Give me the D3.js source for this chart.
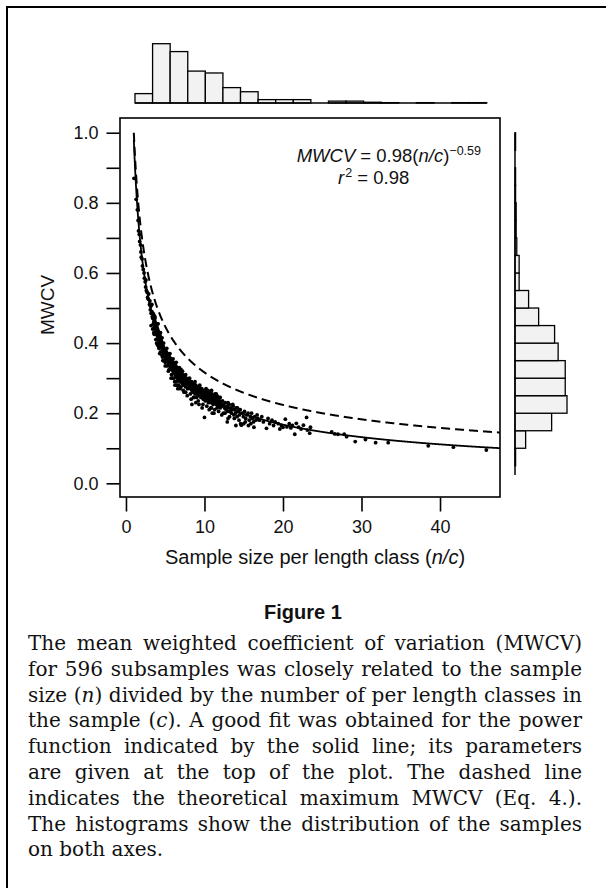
<!DOCTYPE html>
<html><head><meta charset="utf-8">
<script src="https://cdn.jsdelivr.net/npm/d3@7/dist/d3.min.js"></script>
<style>body{margin:0;background:#fff;} svg{display:block;}</style>
</head><body>
<svg id="chart" width="606" height="888"></svg>
<script>
// ---------------- data ----------------
const xTicks = [0, 10, 20, 30, 40];
const yTicks = [0, 0.1, 0.2, 0.3, 0.4, 0.5, 0.6, 0.7, 0.8, 0.9, 1.0];
const yTickLabels = ["0.0", "0.2", "0.4", "0.6", "0.8", "1.0"];
const xDomain = [-0.76, 47.64];
const yDomain = [-0.039, 1.042];

// fitted power function MWCV = a (n/c)^b  and theoretical maximum
const fitParams = [0.98, -0.59];
const maxParams = [1.0, -0.5];
const curveRange = [1, 47.64];

// marginal histograms
const topHistStart = 1.15, topHistWidth = 2.24;
const topHistCounts = [25, 158, 137, 85, 80, 41, 30, 9, 9, 9, 0, 5, 5, 2, 1, 0, 1, 0, 1, 1];
const rightHistStart = 0, rightHistWidth = 0.05;
const rightHistCounts = [0, 1, 18, 62, 88, 85, 85, 73, 67, 40, 23, 7, 7, 3, 2, 2, 1, 1, 0, 1];
const rightHistExtent = [0.024, 1.0];

// subsamples (n/c, MWCV)
const samples = [
[1.02,0.87],[1.3,0.81],[1.45,0.78],[1.55,0.75],[1.6,0.72],[1.7,0.71],[1.75,0.69],[1.85,0.68],[1.9,0.66],[1.95,0.645],
[2.05,0.64],[2.1,0.62],[2.2,0.61],[2.3,0.60],[2.35,0.585],[2.45,0.575],[2.5,0.56],[2.55,0.58],[2.6,0.55],[2.7,0.545],
[2.75,0.53],[2.85,0.525],[2.9,0.54],[3.0,0.51],[3.05,0.52],[3.1,0.495],[3.15,0.505],[3.2,0.485],[3.3,0.49],[3.35,0.475],
[3.42,0.47],[3.45,0.485],[3.48,0.455],[3.5,0.475],[3.55,0.46],[3.58,0.48],[3.6,0.445],[3.62,0.465],[3.65,0.455],[3.68,0.47],
[3.7,0.44],[3.72,0.46],[3.75,0.45],[3.78,0.435],[3.8,0.455],[3.82,0.445],[3.85,0.43],[3.88,0.45],[3.9,0.44],[3.92,0.425],
[3.95,0.445],[3.98,0.435],[4.0,0.42],[4.02,0.44],[4.05,0.43],[4.08,0.415],[4.1,0.435],[4.12,0.425],[4.15,0.41],[4.18,0.43],
[4.2,0.42],[4.22,0.405],[4.25,0.415],[4.28,0.425],[4.3,0.40],[4.33,0.41],[4.36,0.42],[4.4,0.405],[4.42,0.395],[4.45,0.41],
[4.48,0.40],[4.5,0.39],[4.52,0.405],[4.55,0.395],[4.58,0.385],[4.6,0.40],[4.62,0.39],[4.65,0.38],[4.68,0.395],[4.7,0.385],
[4.72,0.375],[4.75,0.39],[4.78,0.38],[4.8,0.37],[4.82,0.385],[4.85,0.375],[4.88,0.365],[4.9,0.38],[4.92,0.37],[4.95,0.36],
[4.98,0.375],[5.0,0.365],[5.03,0.38],[5.06,0.37],[5.1,0.355],[5.12,0.365],[5.15,0.375],[5.18,0.36],[5.2,0.35],[5.23,0.365],
[5.26,0.355],[5.3,0.37],[5.33,0.345],[5.36,0.36],[5.4,0.35],[5.43,0.365],[5.46,0.34],[5.5,0.355],[5.53,0.345],[5.56,0.36],
[5.6,0.335],[5.63,0.35],[3.9,0.40],[4.3,0.37],[4.7,0.35],[5.0,0.335],[5.4,0.32],[4.1,0.455],[4.6,0.415],
[3.2,0.45],[3.4,0.44],[3.6,0.425],[3.8,0.41],[4.0,0.395],[4.2,0.385],[4.4,0.375],[4.6,0.365],[4.8,0.35],[5.0,0.345],
[3.3,0.51],[3.7,0.475],[4.0,0.455],[4.4,0.43],[4.8,0.40],[5.2,0.385],[3.55,0.43],[4.15,0.39],[4.65,0.36],[5.25,0.335],
[5.68,0.345],[5.7,0.33],[5.72,0.355],[5.75,0.34],[5.78,0.35],[5.8,0.325],[5.83,0.34],[5.86,0.35],[5.9,0.33],[5.93,0.345],
[5.96,0.335],[6.0,0.32],[6.03,0.345],[6.06,0.33],[6.1,0.34],[6.13,0.315],[6.16,0.335],[6.2,0.325],[6.23,0.34],[6.26,0.31],
[6.3,0.33],[6.33,0.32],[6.36,0.335],[6.4,0.305],[6.43,0.325],[6.46,0.315],[6.5,0.33],[6.53,0.30],[6.56,0.32],[6.6,0.31],
[6.63,0.325],[6.66,0.295],[6.7,0.315],[6.73,0.305],[6.76,0.32],[6.8,0.30],[6.83,0.31],[6.86,0.29],[6.9,0.315],[6.93,0.30],
[6.96,0.31],[7.0,0.29],[7.03,0.305],[7.06,0.315],[7.1,0.295],[7.13,0.305],[7.16,0.285],[7.2,0.30],[7.23,0.31],[7.26,0.29],
[7.3,0.30],[7.35,0.28],[7.4,0.295],[7.45,0.305],[7.5,0.285],[7.55,0.295],[7.6,0.275],[7.65,0.29],[7.7,0.30],[7.75,0.28],
[7.8,0.29],[7.85,0.27],[6.2,0.29],[6.9,0.27],[7.4,0.26],[5.9,0.30],[7.0,0.325],[6.5,0.28],
[5.5,0.325],[5.8,0.31],[6.1,0.30],[6.4,0.29],[6.7,0.28],[7.0,0.275],[7.3,0.265],[7.6,0.26],[5.6,0.37],[6.0,0.355],
[6.4,0.345],[6.8,0.33],[7.2,0.32],[7.6,0.31],[5.75,0.30],[6.6,0.27],[7.8,0.25],[6.25,0.28],
[7.95,0.285],[8.0,0.295],[8.05,0.275],[8.1,0.29],[8.15,0.28],[8.2,0.27],[8.25,0.285],[8.3,0.275],[8.35,0.29],[8.4,0.265],
[8.45,0.28],[8.5,0.27],[8.55,0.26],[8.6,0.275],[8.65,0.285],[8.7,0.265],[8.75,0.275],[8.8,0.255],[8.85,0.27],[8.9,0.28],
[8.95,0.26],[9.0,0.27],[9.05,0.255],[9.1,0.275],[9.15,0.265],[9.2,0.25],[9.25,0.27],[9.3,0.26],[9.35,0.275],[9.4,0.255],
[9.5,0.265],[9.55,0.245],[9.6,0.26],[9.65,0.27],[9.7,0.25],[9.8,0.26],[9.85,0.24],[9.9,0.255],[9.95,0.265],[10.0,0.245],
[10.05,0.255],[10.1,0.235],[8.3,0.24],[8.9,0.23],[9.3,0.225],[9.7,0.215],[10.0,0.188],[8.6,0.245],
[8.2,0.255],[8.7,0.245],[9.2,0.235],[9.8,0.225],[10.3,0.22],[10.8,0.215],[11.3,0.21],[8.1,0.30],[8.8,0.29],[9.4,0.28],
[10.2,0.27],[10.9,0.265],[11.5,0.255],[12.0,0.245],[9.0,0.245],[10.5,0.23],[11.0,0.2],[8.4,0.225],[12.4,0.2],[11.6,0.215],
[10.2,0.25],[10.25,0.26],[10.3,0.245],[10.35,0.255],[10.4,0.24],[10.45,0.265],[10.5,0.25],[10.55,0.235],[10.6,0.255],[10.65,0.245],
[10.7,0.26],[10.75,0.24],[10.8,0.25],[10.85,0.23],[10.9,0.245],[10.95,0.255],[11.0,0.235],[11.05,0.245],[11.1,0.225],[11.15,0.24],
[11.2,0.25],[11.25,0.23],[11.3,0.24],[11.35,0.255],[11.4,0.235],[11.45,0.245],[11.5,0.225],[11.55,0.24],[11.6,0.25],[11.65,0.23],
[11.7,0.245],[11.75,0.22],[11.8,0.235],[11.85,0.245],[11.9,0.225],[11.95,0.235],[12.0,0.215],[12.1,0.23],[12.2,0.22],[12.3,0.235],
[10.6,0.21],[11.2,0.20],[11.8,0.205],[12.2,0.195],[10.9,0.215],
[12.45,0.225],[12.55,0.215],[12.65,0.23],[12.75,0.21],[12.85,0.22],[12.95,0.205],[13.05,0.215],[13.15,0.225],[13.25,0.205],[13.35,0.215],
[13.45,0.2],[13.55,0.21],[13.65,0.22],[13.75,0.195],[13.85,0.21],[13.95,0.2],[14.05,0.215],[14.15,0.19],[14.3,0.205],[14.45,0.195],
[14.55,0.21],[14.6,0.17],[13.0,0.185],[14.7,0.166],
[12.6,0.2],[13.2,0.19],[13.8,0.185],[14.4,0.18],[13.0,0.23],[13.6,0.225],[14.2,0.215],[15.2,0.175],[15.9,0.17],[12.9,0.175],[14.0,0.165],
[14.8,0.2],[14.95,0.19],[15.1,0.205],[15.25,0.185],[15.4,0.195],[15.55,0.2],[15.7,0.18],[15.85,0.19],[16.0,0.2],[16.1,0.185],
[16.25,0.175],[16.4,0.19],[16.55,0.18],[16.7,0.195],[16.8,0.185],[15.0,0.17],[15.6,0.165],[16.3,0.16],
[17.0,0.18],[17.3,0.19],[17.5,0.175],[17.9,0.157],[18.1,0.185],[18.3,0.17],[18.6,0.18],[18.8,0.165],[19.0,0.175],
[19.4,0.17],[19.8,0.165],[20.3,0.183],[20.5,0.161],[20.8,0.17],[21.0,0.158],[21.2,0.165],[20.0,0.16],[19.6,0.155],
[21.5,0.14],[21.7,0.171],[22.0,0.16],[22.6,0.166],[23.0,0.188],[23.1,0.152],[23.4,0.143],[22.3,0.155],[23.5,0.16],
[26.2,0.147],[26.6,0.141],[27.0,0.14],[28.1,0.133],[27.8,0.14],[29.2,0.119],[30.5,0.125],[31.8,0.116],[33.4,0.116],[38.5,0.107],
[41.7,0.103],[45.9,0.095]
];

const xTitle = "Sample size per length class (";
const figureLabel = "Figure 1";
const captionLines = [
  "The mean weighted coefficient of variation (MWCV)",
  "for 596 subsamples was closely related to the sample",
  "size (_n_) divided by the number of per length classes in",
  "the sample (_c_). A good fit was obtained for the power",
  "function indicated by the solid line; its parameters",
  "are given at the top of the plot. The dashed line",
  "indicates the theoretical maximum MWCV (Eq. 4.).",
  "The histograms show the distribution of the samples",
  "on both axes."
];

// ---------------- drawing ----------------
const svg = d3.select("#chart");
const sans = "'Liberation Sans', Arial, Helvetica, sans-serif";
const serif = "'DejaVu Serif', serif";
const plot = {left: 120, top: 118, right: 500, bottom: 497};

// outer frame (open on right/bottom)
svg.append("path").attr("d", "M606,7H7V888").attr("fill", "none").attr("stroke", "#000").attr("stroke-width", 2);

const x = d3.scaleLinear().domain(xDomain).range([plot.left, plot.right]);
const y = d3.scaleLinear().domain(yDomain).range([plot.bottom, plot.top]);

// plot box
svg.append("rect").attr("x", plot.left).attr("y", plot.top)
  .attr("width", plot.right - plot.left).attr("height", plot.bottom - plot.top)
  .attr("fill", "none").attr("stroke", "#000").attr("stroke-width", 1.6);

// y axis
const yAxis = d3.axisLeft(y).tickValues(yTicks).tickSize(13).tickPadding(8)
  .tickFormat(d => { const s = d.toFixed(1); return yTickLabels.includes(s) ? s : ""; });
const gy = svg.append("g").attr("transform", `translate(${plot.left - 0.5},0)`).call(yAxis);
gy.select(".domain").remove();
gy.selectAll("line").attr("stroke-width", 1.6);
gy.selectAll("text").attr("font-family", sans).attr("font-size", 18).attr("fill", "#111");

// x axis
const xAxis = d3.axisBottom(x).tickValues(xTicks).tickSize(14).tickPadding(9);
const gx = svg.append("g").attr("transform", `translate(0,${plot.bottom + 0.5})`).call(xAxis);
gx.select(".domain").remove();
gx.selectAll("line").attr("stroke-width", 1.6);
gx.selectAll("text").attr("font-family", sans).attr("font-size", 18).attr("fill", "#111");

// axis titles
const xt = svg.append("text").attr("x", 315).attr("y", 564).attr("text-anchor", "middle")
  .attr("font-family", sans).attr("font-size", 20).attr("fill", "#111");
xt.append("tspan").text(xTitle);
xt.append("tspan").attr("font-style", "italic").text("n/c");
xt.append("tspan").text(")");

svg.append("text").attr("transform", "translate(54,305) rotate(-90)").attr("text-anchor", "middle")
  .attr("font-family", sans).attr("font-size", 19).attr("fill", "#111").text("MWCV");

// curves
svg.append("clipPath").attr("id", "pc").append("rect")
  .attr("x", plot.left).attr("y", plot.top).attr("width", plot.right - plot.left).attr("height", plot.bottom - plot.top);
const xs = d3.range(curveRange[0], curveRange[1] + 0.001, 0.02);
const line = d3.line().x(d => x(d[0])).y(d => y(d[1]));
svg.append("path").attr("clip-path", "url(#pc)")
  .datum(xs.map(v => [v, maxParams[0] * Math.pow(v, maxParams[1])]))
  .attr("d", line).attr("fill", "none").attr("stroke", "#000").attr("stroke-width", 2).attr("stroke-dasharray", "9,5");
svg.append("path").attr("clip-path", "url(#pc)")
  .datum(xs.map(v => [v, fitParams[0] * Math.pow(v, fitParams[1])]))
  .attr("d", line).attr("fill", "none").attr("stroke", "#000").attr("stroke-width", 1.8);

// points
svg.append("g").selectAll("circle").data(samples).join("circle")
  .attr("cx", d => x(d[0])).attr("cy", d => y(d[1])).attr("r", 1.9).attr("fill", "#000");

// annotation
const a1 = svg.append("text").attr("x", 481).attr("y", 162).attr("text-anchor", "end")
  .attr("font-family", sans).attr("font-size", 18.5).attr("fill", "#111");
a1.append("tspan").attr("font-style", "italic").text("MWCV");
a1.append("tspan").text(" = 0.98(");
a1.append("tspan").attr("font-style", "italic").text("n/c");
a1.append("tspan").text(")");
a1.append("tspan").attr("font-size", 12.5).attr("dy", -7).text("\u22120.59");
const a2 = svg.append("text").attr("x", 338).attr("y", 184)
  .attr("font-family", sans).attr("font-size", 18.5).attr("fill", "#111");
a2.append("tspan").attr("font-style", "italic").text("r");
a2.append("tspan").attr("font-size", 12.5).attr("dy", -7).attr("dx", 1).text("2");
a2.append("tspan").attr("dy", 7).text(" = 0.98");

// top histogram
const topBase = 103;
const hTop = d3.scaleLinear().domain([0, d3.max(topHistCounts)]).range([0, 59.3]);
const topBins = topHistCounts.map((c, i) => ({x0: topHistStart + i * topHistWidth, x1: topHistStart + (i + 1) * topHistWidth, c}));
svg.append("g").selectAll("rect").data(topBins.filter(b => b.c > 0)).join("rect")
  .attr("x", b => x(b.x0)).attr("width", b => x(b.x1) - x(b.x0))
  .attr("y", b => topBase - hTop(b.c)).attr("height", b => hTop(b.c))
  .attr("fill", "#f2f2f2").attr("stroke", "#000").attr("stroke-width", 1.3);
svg.append("line").attr("x1", x(topBins[0].x0)).attr("x2", x(topBins[topBins.length - 1].x1))
  .attr("y1", topBase).attr("y2", topBase).attr("stroke", "#000").attr("stroke-width", 1.5);

// right histogram
const rightBase = 515;
const wRight = d3.scaleLinear().domain([0, d3.max(rightHistCounts)]).range([0, 52]);
const rBins = rightHistCounts.map((c, i) => ({y0: rightHistStart + i * rightHistWidth, y1: rightHistStart + (i + 1) * rightHistWidth, c}));
svg.append("g").selectAll("rect").data(rBins.filter(b => b.c > 0)).join("rect")
  .attr("x", rightBase).attr("width", b => wRight(b.c))
  .attr("y", b => y(b.y1)).attr("height", b => y(b.y0) - y(b.y1))
  .attr("fill", "#f2f2f2").attr("stroke", "#000").attr("stroke-width", 1.3);
svg.append("line").attr("x1", rightBase).attr("x2", rightBase)
  .attr("y1", y(rightHistExtent[1])).attr("y2", y(rightHistExtent[0])).attr("stroke", "#000").attr("stroke-width", 1.5);

// figure label
svg.append("text").attr("x", 303).attr("y", 619).attr("text-anchor", "middle")
  .attr("font-family", sans).attr("font-weight", "bold").attr("font-size", 20).attr("fill", "#111").text(figureLabel);

// caption (justified, font fitted to the column width)
const capX0 = 28, capX1 = 582, capY0 = 650, capDy = 25.8;
const probe = svg.append("text").attr("font-family", serif).attr("font-size", 16).text(captionLines[1]);
const capSize = Math.min(20, 16 * (capX1 - capX0 - 6) / probe.node().getComputedTextLength());
probe.remove();
captionLines.forEach((ln, i) => {
  const yy = capY0 + i * capDy;
  const words = ln.split(" ");
  const g = svg.append("g");
  const nodes = words.map(w => {
    const t = g.append("text").attr("y", yy).attr("font-family", serif).attr("font-size", capSize).attr("fill", "#111");
    w.split("_").forEach((seg, k) => { if (seg) t.append("tspan").attr("font-style", k % 2 ? "italic" : null).text(seg); });
    return t;
  });
  const widths = nodes.map(t => t.node().getComputedTextLength());
  const last = i === captionLines.length - 1;
  const gap = last ? capSize * 0.32 : (capX1 - capX0 - d3.sum(widths)) / (words.length - 1);
  let cx = capX0;
  nodes.forEach((t, k) => { t.attr("x", cx); cx += widths[k] + gap; });
});
</script>
</body></html>
